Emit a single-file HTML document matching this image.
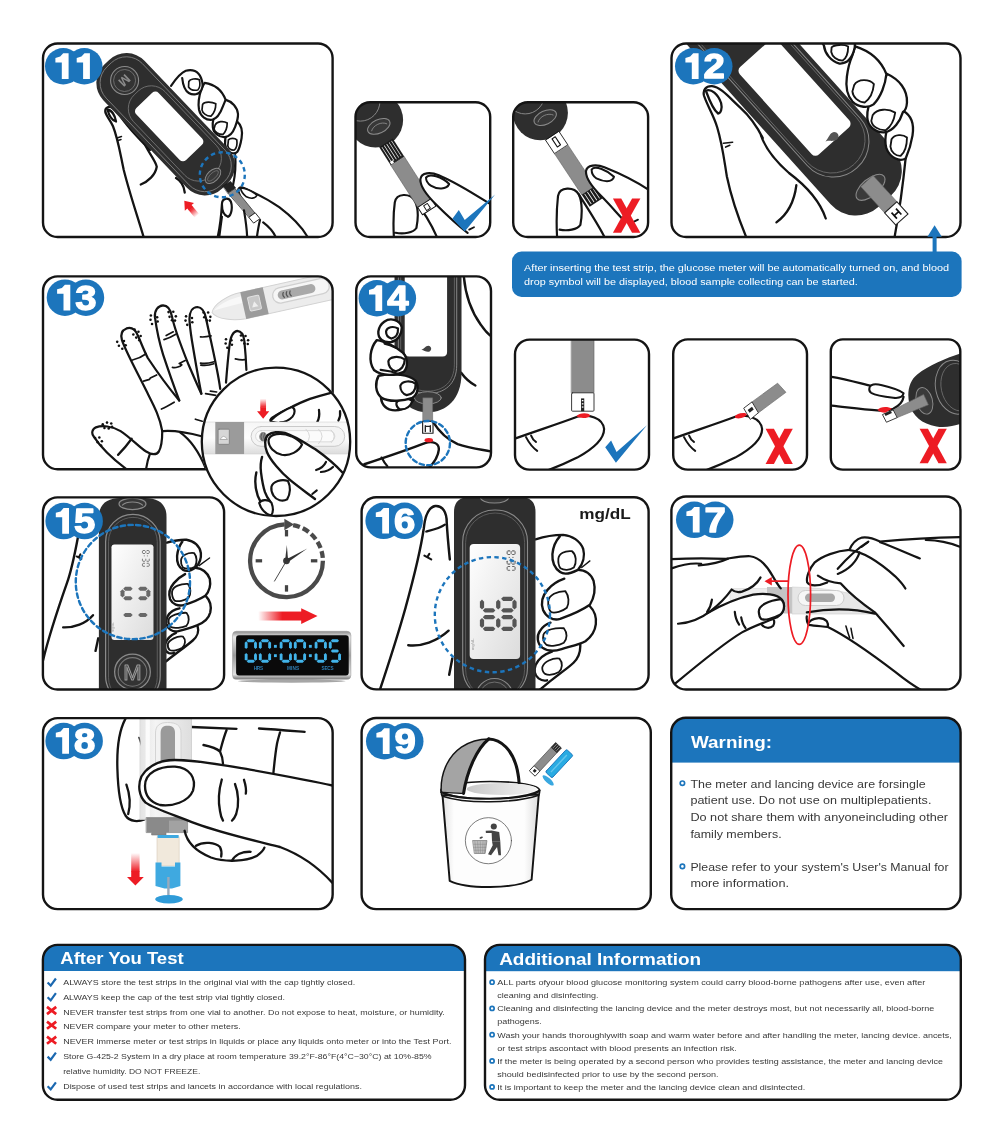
<!DOCTYPE html>
<html><head><meta charset="utf-8"><title>Instructions</title>
<style>
html,body{margin:0;padding:0;background:#fff}
body{width:1000px;height:1143px;overflow:hidden;position:relative;font-family:"Liberation Sans",sans-serif}
svg{position:absolute;left:0;top:0;display:block;will-change:transform;opacity:0.9999}
text{font-family:"Liberation Sans",sans-serif}
</style></head><body>
<svg width="1000" height="1143" viewBox="0 0 1000 1143">
<defs>
<linearGradient id="gBin" x1="0" y1="0" x2="1" y2="0"><stop offset="0" stop-color="#e2e2e2"/><stop offset="0.12" stop-color="#fdfdfd"/><stop offset="0.85" stop-color="#fdfdfd"/><stop offset="1" stop-color="#dcdcdc"/></linearGradient>
<linearGradient id="gBinIn" x1="0" y1="0" x2="1" y2="0"><stop offset="0" stop-color="#c8c8c8"/><stop offset="1" stop-color="#f4f4f4"/></linearGradient>
<linearGradient id="gDev" x1="0" y1="0" x2="1" y2="0"><stop offset="0" stop-color="#e4e4e4"/><stop offset="0.3" stop-color="#f4f4f4"/><stop offset="1" stop-color="#dedede"/></linearGradient>
<linearGradient id="gScr" x1="0" y1="0" x2="1" y2="1"><stop offset="0" stop-color="#ffffff"/><stop offset="1" stop-color="#dcdcdc"/></linearGradient>
<linearGradient id="gSilver" x1="0" y1="0" x2="0" y2="1"><stop offset="0" stop-color="#8a8a8a"/><stop offset="0.12" stop-color="#e8e8e8"/><stop offset="0.5" stop-color="#9a9a9a"/><stop offset="0.9" stop-color="#e0e0e0"/><stop offset="1" stop-color="#777"/></linearGradient>
<linearGradient id="gLan" x1="0" y1="0" x2="0" y2="1"><stop offset="0" stop-color="#f6f6f6"/><stop offset="0.5" stop-color="#fdfdfd"/><stop offset="1" stop-color="#dcdcdc"/></linearGradient>
<linearGradient id="gRedV" x1="0" y1="0" x2="0" y2="1"><stop offset="0" stop-color="#ed1c24"/><stop offset="1" stop-color="#ed1c24" stop-opacity="0"/></linearGradient>
<linearGradient id="gRedVr" x1="0" y1="1" x2="0" y2="0"><stop offset="0" stop-color="#ed1c24"/><stop offset="1" stop-color="#ed1c24" stop-opacity="0"/></linearGradient>
<linearGradient id="gRedH" x1="1" y1="0" x2="0" y2="0"><stop offset="0" stop-color="#ed1c24"/><stop offset="0.45" stop-color="#ed1c24"/><stop offset="1" stop-color="#ed1c24" stop-opacity="0"/></linearGradient>
<clipPath id="c_b11"><rect x="43.00" y="43.50" width="289.60" height="193.50" rx="14.6"/></clipPath><clipPath id="c_b11a"><rect x="355.50" y="102.20" width="134.70" height="134.80" rx="14.6"/></clipPath><clipPath id="c_b11b"><rect x="513.20" y="102.20" width="134.90" height="134.80" rx="14.6"/></clipPath><clipPath id="c_b12"><rect x="671.50" y="43.50" width="289.00" height="193.50" rx="14.6"/></clipPath><clipPath id="c_b13"><rect x="43.00" y="276.40" width="289.65" height="192.90" rx="14.6"/></clipPath><clipPath id="c_b14"><rect x="356.20" y="276.40" width="134.80" height="191.00" rx="14.6"/></clipPath><clipPath id="c_b14a"><rect x="515.00" y="339.60" width="134.00" height="130.00" rx="14.6"/></clipPath><clipPath id="c_b14b"><rect x="673.20" y="339.40" width="133.80" height="130.20" rx="14.6"/></clipPath><clipPath id="c_b14c"><rect x="830.80" y="339.40" width="129.50" height="130.20" rx="12"/></clipPath><clipPath id="c_b15"><rect x="42.90" y="497.40" width="181.20" height="192.15" rx="14.6"/></clipPath><clipPath id="c_b16"><rect x="361.60" y="497.20" width="287.00" height="192.20" rx="14.6"/></clipPath><clipPath id="c_b17"><rect x="671.40" y="496.50" width="289.10" height="193.00" rx="14.6"/></clipPath><clipPath id="c_b18"><rect x="43.00" y="718.10" width="289.65" height="191.00" rx="14.6"/></clipPath><clipPath id="c_b19"><rect x="361.60" y="718.00" width="289.20" height="191.10" rx="14.6"/></clipPath><clipPath id="c_bw"><rect x="671.20" y="717.80" width="289.40" height="191.30" rx="14.6"/></clipPath><clipPath id="c_ba"><rect x="42.90" y="944.90" width="422.10" height="154.90" rx="14.6"/></clipPath><clipPath id="c_bi"><rect x="485.00" y="944.90" width="475.80" height="154.90" rx="14.6"/></clipPath></defs>
<rect width="1000" height="1143" fill="#fff"/>
<g clip-path="url(#c_b11)"><g transform="translate(90,40) scale(0.25)" fill="none" stroke="#141414" stroke-width="9.12" stroke-linecap="round" stroke-linejoin="round"><path d="M218,800 C195,720 160,620 135,520 C120,450 112,395 92,345 C78,312 52,292 64,274 C78,258 100,272 118,300 C150,350 200,400 240,440"/><path d="M70,278 C86,280 100,300 104,326 C90,322 76,302 70,278 Z" fill="#fff"/><path d="M108,392 L126,386 M112,402 L124,398" stroke-width="6"/><path d="M203,578 C232,566 262,540 267,507 C262,480 225,440 212,400 C208,390 208,382 210,376"/><path d="M344,552 C362,562 376,584 379,610"/></g><g transform="translate(160,60) scale(0.12)" fill="#fff" stroke="#141414" stroke-width="18.24" stroke-linecap="round" stroke-linejoin="round"><path d="M640,510 C675,540 690,590 680,650 C672,700 660,740 645,765 C620,790 570,775 552,740 C540,710 540,680 545,650 Z"/><path d="M570,665 C585,650 625,650 640,665 C645,700 635,735 620,750 C595,755 570,740 565,715 Z" stroke-width="14"/><path d="M545,330 C600,345 645,395 650,450 C652,490 640,520 625,560 C610,600 580,640 540,642 C490,645 445,610 440,560 C438,530 440,510 445,495 Z"/><path d="M460,540 C475,510 530,505 560,525 C560,560 545,600 525,620 C490,622 455,600 450,575 Z" stroke-width="14"/><path d="M345,240 C325,300 315,360 325,415 C338,470 385,505 435,498 C475,490 505,440 525,385 C540,345 548,335 545,328 C520,260 465,205 372,190 Z"/><path d="M355,370 C370,345 430,345 465,365 C465,400 450,445 425,468 C390,470 355,445 350,415 Z" stroke-width="14"/><path d="M60,260 C120,170 165,110 215,90 C270,72 320,95 342,150 C358,190 358,225 345,250 C325,290 275,295 240,275 C205,255 192,215 185,150 L60,300 Z" stroke="none"/><path d="M92,215 C130,160 165,110 215,90 C270,72 320,95 342,150 C358,190 358,225 345,250 C325,290 275,295 240,275 C205,255 192,215 185,150" fill="none"/><path d="M240,180 C250,158 300,150 328,165 C336,200 330,235 315,250 C280,256 250,245 238,225 Z" stroke-width="14"/></g><g transform="translate(167.5,122.5) rotate(46.3)"><rect x="-85.5" y="-26" width="171" height="57" rx="25" fill="#2e2e2e"/><rect x="-82" y="-22.5" width="164" height="50" rx="22" fill="none" stroke="#7d7d7d" stroke-width="0.9"/><rect x="-43" y="-19.5" width="112" height="43.5" rx="19" fill="none" stroke="#6f6f6f" stroke-width="0.9"/><rect x="-32" y="-14" width="72" height="31" rx="4.5" fill="#fff"/><circle cx="-60" cy="2" r="14" fill="#333" stroke="#8a8a8a" stroke-width="1.1"/><circle cx="-60" cy="2" r="11" fill="none" stroke="#777" stroke-width="0.8"/><text x="-60" y="6.6" text-anchor="middle" font-weight="bold" font-size="13" fill="#8a8a8a" transform="rotate(90,-60,2)">M</text><ellipse cx="70" cy="4" rx="5.5" ry="9.5" fill="#3a3a3a" stroke="#8a8a8a" stroke-width="1"/><ellipse cx="70" cy="4" rx="2.8" ry="7" fill="none" stroke="#777" stroke-width="0.7"/></g><g transform="translate(180,140) scale(0.16)" stroke-linecap="round" stroke-linejoin="round" stroke="#141414" fill="#fff" stroke-width="13.68"><path d="M345,95 C350,160 345,220 332,280" fill="none"/><path d="M800,610 C760,540 700,480 620,420 C560,378 480,335 400,300 C375,290 355,300 368,330 C385,380 420,440 470,500 L520,520 L600,610 Z" stroke="none"/><path d="M800,610 C760,540 700,480 620,420 C560,378 480,335 400,300 C375,290 355,300 368,330 C385,380 410,430 440,475" fill="none"/><path d="M378,300 C410,300 450,320 482,345 C470,368 440,368 415,355 C395,340 382,322 378,300 Z" stroke-width="10"/><path d="M520,515 C560,545 585,575 600,610 M500,500 C490,540 485,575 480,610" fill="none"/><polygon points="268,288 316,258 348,300 300,332" fill="#222" stroke="#111" stroke-width="3"/><polygon points="302,331 344,303 468,456 432,482" fill="#8c8c8c" stroke="#333" stroke-width="5"/><polygon points="432,482 470,455 500,492 462,518" fill="#fff" stroke="#222" stroke-width="6"/><path d="M235,610 C250,540 258,470 262,400 C264,365 300,355 318,385 C330,420 322,470 300,480 M262,400 C262,440 268,470 300,480" fill="#fff"/><path d="M262,480 C255,530 250,570 245,610 M400,440 C410,500 418,560 420,610" fill="none"/></g><circle cx="222.3" cy="174.8" r="22.5" fill="none" stroke="#1c75bc" stroke-width="2.4" stroke-dasharray="4.4 3.4"/><g transform="translate(187.5,204.5) rotate(-40)"><polygon points="0,-5 6,3 2.8,3 2.8,6 -2.8,6 -2.8,3 -6,3" fill="#ed1c24"/><rect x="-2.8" y="5.8" width="5.6" height="9" fill="url(#gRedV)"/></g></g><rect x="43.00" y="43.50" width="289.60" height="193.50" rx="14.6" fill="none" stroke="#141414" stroke-width="2.4" /><circle cx="63.25" cy="66.25" r="18.25" fill="#1c75bc"/><circle cx="84.25" cy="66.25" r="18.25" fill="#1c75bc"/><polygon points="63.20,53.30 68.60,53.30 68.60,79.00 61.80,79.00 61.80,62.40 55.40,62.40 55.40,57.90 60.20,56.60" fill="#fff"/><polygon points="84.50,53.30 89.90,53.30 89.90,79.00 83.10,79.00 83.10,62.40 76.70,62.40 76.70,57.90 81.50,56.60" fill="#fff"/>
<g clip-path="url(#c_b11a)"><g transform="translate(346,92) scale(0.16)" stroke-linecap="round" stroke-linejoin="round"><circle cx="185" cy="175" r="172" fill="#2e2e2e"/><circle cx="90" cy="60" r="122" fill="none" stroke="#8a8a8a" stroke-width="6"/><g transform="translate(205,215) rotate(-25)"><ellipse rx="75" ry="42" fill="#383838" stroke="#8a8a8a" stroke-width="6"/><path d="M-52,6 C-30,-22 30,-22 52,6" fill="none" stroke="#8a8a8a" stroke-width="5"/></g><path d="M300,920 C295,840 295,760 305,690 C315,630 400,630 430,680 C455,730 450,800 440,850 C420,880 360,890 310,880" fill="#fff" stroke="#141414" stroke-width="13.68"/><path d="M430,680 C480,740 530,820 570,910" fill="none" stroke="#141414" stroke-width="13.68"/><g transform="translate(250,318) rotate(57.4)"><rect x="0" y="-50.0" width="135" height="100" fill="#1c1c1c"/><rect x="8" y="-37.5" width="113" height="4" fill="#fff"/><rect x="8" y="-19.6" width="113" height="4" fill="#fff"/><rect x="8" y="-1.8" width="113" height="4" fill="#fff"/><rect x="8" y="16.1" width="113" height="4" fill="#fff"/><rect x="8" y="33.9" width="113" height="4" fill="#fff"/><rect x="113" y="24.0" width="20" height="20" fill="#fff"/><rect x="135" y="-50.0" width="311" height="100" fill="#8c8c8c" stroke="#555" stroke-width="3"/><rect x="446" y="-50.0" width="55" height="100" fill="#fff" stroke="#111" stroke-width="6"/><rect x="458" y="-14" width="35" height="28" fill="none" stroke="#111" stroke-width="6"/></g><path d="M930,720 C820,650 700,570 580,520 C530,500 470,500 465,545 C462,590 500,640 560,700 C620,760 680,820 740,875 L930,920 Z" fill="#fff" stroke="none"/><path d="M920,712 C820,650 700,570 580,520 C530,500 470,500 465,545 C462,590 500,640 560,700 C620,760 680,820 760,880" fill="none" stroke="#141414" stroke-width="13.68"/><path d="M500,535 C520,505 600,530 645,575 C630,610 570,610 530,585 C510,572 500,555 500,535 Z" fill="#fff" stroke="#141414" stroke-width="12.54"/><path d="M770,860 L800,845" stroke="#141414" stroke-width="11.40" fill="none"/></g></g><rect x="355.50" y="102.20" width="134.70" height="134.80" rx="14.6" fill="none" stroke="#141414" stroke-width="2.4" /><g transform="translate(346,92) scale(0.16)"><polygon points="665.0,792.0 705.0,738.0 742.0,800.0 932.0,640.0 742.0,872.0" fill="#1c75bc"/></g><g clip-path="url(#c_b11b)"><g transform="translate(502,92) scale(0.16)" stroke-linecap="round" stroke-linejoin="round"><circle cx="240" cy="130" r="172" fill="#2e2e2e"/><circle cx="145" cy="15" r="122" fill="none" stroke="#8a8a8a" stroke-width="6"/><g transform="translate(270,160) rotate(-25)"><ellipse rx="75" ry="42" fill="#383838" stroke="#8a8a8a" stroke-width="6"/><path d="M-52,6 C-30,-22 30,-22 52,6" fill="none" stroke="#8a8a8a" stroke-width="5"/></g><path d="M345,920 C340,840 340,740 350,650 C360,590 450,590 480,640 C505,690 500,780 490,830 C470,860 410,870 360,860" fill="#fff" stroke="#141414" stroke-width="13.68"/><path d="M480,640 C530,720 590,810 640,905" fill="none" stroke="#141414" stroke-width="13.68"/><g transform="translate(315,275) rotate(56.5)"><rect x="0" y="-50.0" width="100" height="100" fill="#fff" stroke="#111" stroke-width="5"/><rect x="14" y="-12" width="60" height="24" fill="none" stroke="#111" stroke-width="7"/><rect x="100" y="-50.0" width="309" height="100" fill="#8c8c8c" stroke="#555" stroke-width="3"/><rect x="408" y="-50.0" width="90" height="100" fill="#1c1c1c"/><rect x="413" y="-33.3" width="75" height="5" fill="#fff"/><rect x="413" y="-12.5" width="75" height="5" fill="#fff"/><rect x="413" y="8.3" width="75" height="5" fill="#fff"/><rect x="413" y="29.2" width="75" height="5" fill="#fff"/></g><path d="M930,600 C840,560 740,510 640,470 C590,450 530,455 525,495 C522,540 560,590 620,650 C680,710 740,770 800,830 L930,900 Z" fill="#fff" stroke="none"/><path d="M915,610 C840,560 740,510 640,470 C590,450 530,455 525,495 C522,540 560,590 620,650 C680,710 720,760 760,800" fill="none" stroke="#141414" stroke-width="13.68"/><path d="M560,485 C580,455 660,490 700,530 C690,570 630,560 590,540 C570,528 560,508 560,485 Z" fill="#fff" stroke="#141414" stroke-width="12.54"/><path d="M825,810 L850,798" stroke="#141414" stroke-width="11.40" fill="none"/><polygon points="693,665 745,665 865,880 813,880" fill="#ed1c24"/><polygon points="813,665 865,665 745,880 693,880" fill="#ed1c24"/></g></g><rect x="513.20" y="102.20" width="134.90" height="134.80" rx="14.6" fill="none" stroke="#141414" stroke-width="2.4" />
<g clip-path="url(#c_b12)"><g transform="translate(670,40) scale(0.175)" fill="none" stroke="#141414" stroke-width="13.11" stroke-linecap="round" stroke-linejoin="round"><path d="M435,1125 C400,1040 350,900 325,780 C310,690 300,600 270,500 C250,430 215,380 195,320 C185,285 205,262 240,264 C290,268 340,330 400,385 C450,430 500,500 530,560"/><path d="M205,290 C235,275 275,310 292,360 C300,390 290,420 275,420 C255,405 225,345 205,290 Z"/><path d="M305,590 L358,584 M318,612 L342,602" stroke-width="9"/><path d="M520,545 C545,620 600,690 680,760 C760,820 850,900 890,1020"/><path d="M722,830 C712,910 680,990 608,1042"/></g><g transform="translate(859,170) rotate(48)"><rect x="-360" y="-40" width="400.5" height="84" rx="34" fill="#2e2e2e"/><rect x="-360" y="-35.5" width="357" height="71" rx="35" fill="none" stroke="#8a8a8a" stroke-width="1"/><rect x="-360" y="-33.2" width="352.5" height="66.4" rx="33" fill="none" stroke="#707070" stroke-width="0.8"/><rect x="-156" y="-26" width="117.6" height="50.5" rx="5" fill="#fff"/></g><g transform="translate(800,40) scale(0.1838)" fill="#fff" stroke="#141414" stroke-width="12.54" stroke-linecap="round" stroke-linejoin="round"><path d="M575,640 C565,740 550,880 515,1070" fill="none"/><path d="M560,385 C605,410 622,460 612,520 C604,570 590,610 575,645 C540,665 490,640 470,590 C462,560 464,525 470,500 Z"/><path d="M498,540 C515,512 560,512 582,530 C582,570 570,610 548,630 C520,632 495,610 492,580 Z" stroke-width="10"/><path d="M475,185 C540,215 585,270 582,340 C580,370 572,385 560,392 C545,440 510,495 460,502 C410,505 368,470 366,420 C365,395 368,380 372,365 Z"/><path d="M395,410 C420,372 480,372 518,395 C512,435 495,470 468,490 C430,494 392,470 388,440 Z" stroke-width="10"/><path d="M300,35 C380,60 440,110 470,185 C465,240 440,310 400,350 C370,372 320,368 285,335 C255,300 248,250 255,200 C260,160 270,120 282,92 Z"/><path d="M295,245 C315,208 380,212 402,240 C398,285 380,320 352,340 C315,338 288,310 285,280 Z" stroke-width="10"/><path d="M100,-20 L130,30 C135,70 165,115 215,128 C255,130 285,100 298,40 L300,-20 Z"/><path d="M172,40 C185,25 240,22 262,35 C262,70 250,100 232,112 C200,112 175,90 170,65 Z" stroke-width="10"/></g><path d="M825.5,141.5 C829,138 829.5,132.5 834,132 C838.5,132 840,137 837,139.5 C833.5,142 829.5,140 825.5,141.5 Z" fill="#555"/><g transform="translate(870.5,187.3) rotate(-40)"><ellipse rx="17.5" ry="8.5" fill="#3a3a3a" stroke="#8a8a8a" stroke-width="1.1"/></g><g transform="translate(866.9,181) rotate(47.8)"><rect x="0" y="-8.3" width="35.5" height="16.6" fill="#8c8c8c" stroke="#666" stroke-width="0.6"/><rect x="35.5" y="-8.3" width="16.5" height="16.6" fill="#fff" stroke="#222" stroke-width="1.1"/><path d="M40,-3 h8 M40,3 h8 M44,-3 v6" stroke="#111" stroke-width="1.7" fill="none"/></g></g><rect x="671.50" y="43.50" width="289.00" height="193.50" rx="14.6" fill="none" stroke="#141414" stroke-width="2.4" /><circle cx="693.25" cy="66.25" r="18.25" fill="#1c75bc"/><circle cx="714.25" cy="66.25" r="18.25" fill="#1c75bc"/><polygon points="693.20,53.30 698.60,53.30 698.60,79.00 691.80,79.00 691.80,62.40 685.40,62.40 685.40,57.90 690.20,56.60" fill="#fff"/><text transform="translate(714.20,78.30) scale(1.12,1)" text-anchor="middle" font-weight="bold" font-size="34.2" fill="#fff" stroke="#fff" stroke-width="1.3" stroke-linejoin="round">2</text>
<g clip-path="url(#c_b13)"><g transform="translate(90,290) scale(0.17)" fill="none" stroke="#141414" stroke-width="13.11" stroke-linecap="round" stroke-linejoin="round"><path d="M525,650 C500,620 420,520 340,400 C310,340 295,295 280,265 C265,230 240,218 215,226 C185,238 178,262 188,295 C210,360 260,450 330,590 C370,670 410,740 425,830"/><path d="M525,650 C510,610 470,500 430,380 C405,300 390,220 382,160 C378,120 400,92 430,90 C462,90 475,120 482,155 C495,220 540,340 580,440 C610,510 640,580 655,610"/><path d="M655,610 C645,560 620,420 600,300 C592,250 586,200 585,170 C586,125 605,100 632,100 C662,102 675,130 682,165 C695,230 720,330 745,460 C755,510 762,550 766,582"/><path d="M800,545 C805,480 812,400 820,330 C824,290 835,245 866,240 C895,242 905,270 908,300 C914,360 918,420 920,470"/><path d="M425,830 C425,880 420,925 405,950 C390,972 360,968 330,950 C290,925 240,870 180,830 C130,800 70,795 35,808 C10,820 8,845 22,862 C60,920 130,990 212,1052"/><path d="M352,965 C342,990 335,1020 330,1052"/><path d="M245,875 C220,910 190,945 165,970"/><path d="M430,830 C500,825 580,840 662,862"/><path d="M530,838 C590,880 640,950 682,1052"/><path d="M250,412 C280,405 310,390 330,375 M315,536 L350,526 L355,518 L392,500 M420,700 C445,690 470,675 495,660 M435,292 C460,285 485,272 505,260 M448,268 L490,246 M485,455 C505,460 530,450 540,440 L525,432 L560,415 M650,276 C670,278 690,275 712,270 M650,430 C680,435 705,430 730,422 M652,442 C680,446 705,442 728,434 M680,610 L740,620 M708,595 L745,600 M855,405 C875,410 895,412 910,410 M620,760 L660,772" stroke-width="10"/><circle cx="160" cy="305" r="7.5" fill="#111" stroke="none"/><circle cx="170" cy="328" r="7.5" fill="#111" stroke="none"/><circle cx="190" cy="345" r="7.5" fill="#111" stroke="none"/><circle cx="200" cy="300" r="7.5" fill="#111" stroke="none"/><circle cx="210" cy="325" r="7.5" fill="#111" stroke="none"/><circle cx="262" cy="232" r="7.5" fill="#111" stroke="none"/><circle cx="285" cy="245" r="7.5" fill="#111" stroke="none"/><circle cx="298" cy="270" r="7.5" fill="#111" stroke="none"/><circle cx="255" cy="262" r="7.5" fill="#111" stroke="none"/><circle cx="272" cy="280" r="7.5" fill="#111" stroke="none"/><circle cx="290" cy="295" r="7.5" fill="#111" stroke="none"/><circle cx="358" cy="150" r="7.5" fill="#111" stroke="none"/><circle cx="356" cy="175" r="7.5" fill="#111" stroke="none"/><circle cx="365" cy="200" r="7.5" fill="#111" stroke="none"/><circle cx="395" cy="160" r="7.5" fill="#111" stroke="none"/><circle cx="398" cy="185" r="7.5" fill="#111" stroke="none"/><circle cx="462" cy="130" r="7.5" fill="#111" stroke="none"/><circle cx="490" cy="128" r="7.5" fill="#111" stroke="none"/><circle cx="505" cy="155" r="7.5" fill="#111" stroke="none"/><circle cx="468" cy="158" r="7.5" fill="#111" stroke="none"/><circle cx="482" cy="178" r="7.5" fill="#111" stroke="none"/><circle cx="500" cy="180" r="7.5" fill="#111" stroke="none"/><circle cx="565" cy="155" r="7.5" fill="#111" stroke="none"/><circle cx="562" cy="180" r="7.5" fill="#111" stroke="none"/><circle cx="572" cy="205" r="7.5" fill="#111" stroke="none"/><circle cx="600" cy="165" r="7.5" fill="#111" stroke="none"/><circle cx="602" cy="190" r="7.5" fill="#111" stroke="none"/><circle cx="668" cy="132" r="7.5" fill="#111" stroke="none"/><circle cx="695" cy="132" r="7.5" fill="#111" stroke="none"/><circle cx="708" cy="158" r="7.5" fill="#111" stroke="none"/><circle cx="672" cy="160" r="7.5" fill="#111" stroke="none"/><circle cx="688" cy="180" r="7.5" fill="#111" stroke="none"/><circle cx="705" cy="180" r="7.5" fill="#111" stroke="none"/><circle cx="800" cy="290" r="7.5" fill="#111" stroke="none"/><circle cx="798" cy="315" r="7.5" fill="#111" stroke="none"/><circle cx="808" cy="340" r="7.5" fill="#111" stroke="none"/><circle cx="832" cy="295" r="7.5" fill="#111" stroke="none"/><circle cx="835" cy="322" r="7.5" fill="#111" stroke="none"/><circle cx="888" cy="268" r="7.5" fill="#111" stroke="none"/><circle cx="915" cy="270" r="7.5" fill="#111" stroke="none"/><circle cx="930" cy="295" r="7.5" fill="#111" stroke="none"/><circle cx="892" cy="295" r="7.5" fill="#111" stroke="none"/><circle cx="908" cy="315" r="7.5" fill="#111" stroke="none"/><circle cx="928" cy="318" r="7.5" fill="#111" stroke="none"/><circle cx="75" cy="790" r="7.5" fill="#111" stroke="none"/><circle cx="100" cy="780" r="7.5" fill="#111" stroke="none"/><circle cx="125" cy="785" r="7.5" fill="#111" stroke="none"/><circle cx="85" cy="812" r="7.5" fill="#111" stroke="none"/><circle cx="110" cy="815" r="7.5" fill="#111" stroke="none"/><circle cx="130" cy="805" r="7.5" fill="#111" stroke="none"/><circle cx="30" cy="870" r="7.5" fill="#111" stroke="none"/><circle cx="45" cy="895" r="7.5" fill="#111" stroke="none"/><circle cx="65" cy="915" r="7.5" fill="#111" stroke="none"/><circle cx="55" cy="868" r="7.5" fill="#111" stroke="none"/><circle cx="70" cy="890" r="7.5" fill="#111" stroke="none"/></g><g transform="translate(212,312.5) rotate(-12.5) scale(0.32)"><path d="M0,0 C10,-25 60,-42 100,-42 L420,-42 L420,42 L100,42 C60,40 10,25 0,0 Z" fill="#ececec" stroke="#d2d2d2" stroke-width="3"/><path d="M6,-4 C30,-22 70,-30 100,-30 L100,-8 C70,-8 30,-6 6,-4 Z" fill="#f8f8f8"/><rect x="100" y="-43" width="72" height="86" fill="#9b9b9b"/><rect x="118" y="-22" width="36" height="44" rx="4" fill="#c8c8c8" stroke="#e2e2e2" stroke-width="3"/><path d="M126,12 l10,-18 l10,18 z" fill="#eee"/><rect x="196" y="-30" width="180" height="48" rx="24" fill="#f6f6f6" stroke="#d0d0d0" stroke-width="4"/><rect x="212" y="-20" width="120" height="28" rx="14" fill="#a9a9a9"/><path d="M232,-14 q-8,9 0,18 M243,-14 q-8,9 0,18 M254,-14 q-8,9 0,18" stroke="#555" stroke-width="4" fill="none"/></g></g><rect x="43.00" y="276.40" width="289.65" height="192.90" rx="14.6" fill="none" stroke="#141414" stroke-width="2.4" /><circle cx="64.95" cy="297.65" r="18.25" fill="#1c75bc"/><circle cx="85.95" cy="297.65" r="18.25" fill="#1c75bc"/><polygon points="64.90,284.70 70.30,284.70 70.30,310.40 63.50,310.40 63.50,293.80 57.10,293.80 57.10,289.30 61.90,288.00" fill="#fff"/><text transform="translate(85.90,309.70) scale(1.12,1)" text-anchor="middle" font-weight="bold" font-size="34.2" fill="#fff" stroke="#fff" stroke-width="1.3" stroke-linejoin="round">3</text><defs><clipPath id="c_ins"><circle cx="276" cy="441.8" r="74.2"/></clipPath></defs><circle cx="276" cy="441.8" r="75.3" fill="#fff"/><g clip-path="url(#c_ins)"><g transform="translate(180,350) scale(0.18)" stroke-linecap="round" stroke-linejoin="round"><path d="M960,200 L833,239 C790,250 750,262 722,272 C680,288 640,306 611,322 C570,342 540,358 528,367 C510,378 498,386 503,394 C510,402 540,402 556,402 L960,402 Z" fill="#fff" stroke="none"/><path d="M833,239 C790,250 750,262 722,272 C680,288 640,306 611,322 C570,342 540,358 528,367 C510,378 498,386 503,394 C510,402 540,402 556,402" fill="none" stroke="#141414" stroke-width="13.11"/><path d="M505,392 C530,362 590,328 622,317 C642,325 640,352 625,370 C605,392 575,402 556,402" fill="#fff" stroke="#141414" stroke-width="11.97"/><path d="M772,333 C776,360 772,385 762,402 M889,339 C892,360 888,378 880,392" fill="none" stroke="#141414" stroke-width="12.54"/><rect x="125" y="400" width="830" height="178" rx="14" fill="url(#gLan)" stroke="#cfcfcf" stroke-width="3"/><rect x="196" y="400" width="160" height="178" fill="#9b9b9b"/><rect x="212" y="440" width="62" height="84" rx="5" fill="#d6d6d6" stroke="#777" stroke-width="4"/><path d="M224,495 q18,-32 38,0 z" fill="#fff" stroke="#888" stroke-width="3"/><rect x="395" y="425" width="520" height="110" rx="55" fill="#f4f4f4" stroke="#c4c4c4" stroke-width="5"/><rect x="420" y="448" width="440" height="62" rx="31" fill="#fbfbfb" stroke="#d0d0d0" stroke-width="4"/><path d="M700,440 q40,40 0,80 M770,440 q40,40 0,80 M840,445 q35,35 0,70" fill="none" stroke="#d2d2d2" stroke-width="5"/><ellipse cx="462" cy="482" rx="22" ry="26" fill="#888"/><path d="M455,462 q-12,20 0,40 M470,462 q-12,20 0,40" stroke="#444" stroke-width="4" fill="none"/><path d="M456,594 C448,620 446,650 450,680 C455,720 462,760 472,790 C480,812 490,828 500,840" fill="none" stroke="#141414" stroke-width="13.11"/><path d="M424,680 C415,720 418,770 432,810 C445,845 462,870 480,890" fill="none" stroke="#141414" stroke-width="13.11"/><path d="M508,760 C515,730 565,715 600,728 C615,760 612,800 595,830 C570,845 535,835 520,810 C510,795 505,778 508,760 Z" fill="#fff" stroke="#141414" stroke-width="11.97"/><path d="M440,850 C450,830 490,828 508,848 C520,880 518,905 505,920 C478,915 450,885 440,850 Z" fill="#fff" stroke="#141414" stroke-width="11.97"/><path d="M960,740 L905,683 C870,645 800,585 750,550 C700,520 640,480 583,461 C550,452 510,455 489,472 C470,490 468,530 483,567 C500,610 560,680 611,722 C650,755 700,790 750,828 L960,940 Z" fill="#fff" stroke="none"/><path d="M905,683 C870,645 800,585 750,550 C700,520 640,480 583,461 C550,452 510,455 489,472 C470,490 468,530 483,567 C500,610 560,680 611,722 C650,755 700,790 750,828" fill="none" stroke="#141414" stroke-width="13.11"/><path d="M492,500 C500,465 560,455 620,480 C650,495 670,510 678,525 C660,565 610,590 565,582 C525,572 490,540 492,500 Z" fill="#fff" stroke="#141414" stroke-width="11.97"/><path d="M756,667 C780,660 800,645 811,622 M783,678 C810,675 835,665 850,650" fill="none" stroke="#141414" stroke-width="11.97"/><path d="M735,800 L760,780" fill="none" stroke="#141414" stroke-width="11.40"/><polygon points="462,382 428,340 446,340 446,318 478,318 478,340 496,340" fill="#ed1c24"/><rect x="446" y="270" width="32" height="50" fill="url(#gRedVr)"/></g></g><circle cx="276" cy="441.8" r="74.2" fill="none" stroke="#141414" stroke-width="2.3"/>
<g clip-path="url(#c_b14)"><g transform="translate(346,265) scale(0.19253)" stroke-linecap="round" stroke-linejoin="round"><path d="M612,60 C620,150 650,240 700,310 C720,340 745,365 760,375" fill="none" stroke="#141414" stroke-width="12.54"/><path d="M598,560 C620,590 645,612 672,626" fill="none" stroke="#141414" stroke-width="12.54"/><path d="M252,40 L252,560 C252,700 330,765 425,765 C520,765 600,700 600,560 L600,40 Z" fill="#2e2e2e"/><path d="M272,40 L272,520 C272,620 340,668 425,668 C510,668 575,620 575,520 L575,40" fill="none" stroke="#8a8a8a" stroke-width="5"/><path d="M284,40 L284,515 C284,608 345,655 425,655 C505,655 563,608 563,515 L563,40" fill="none" stroke="#707070" stroke-width="4"/><path d="M305,40 L305,452 Q305,475 328,475 L502,475 Q525,475 525,452 L525,40 Z" fill="#fff"/><path d="M392,440 C408,436 412,420 428,420 C445,422 448,444 432,450 C418,455 405,442 392,440 Z" fill="#444"/><ellipse cx="425" cy="690" rx="70" ry="32" fill="#3a3a3a" stroke="#8a8a8a" stroke-width="5"/><rect x="400" y="690" width="50" height="122" fill="#8c8c8c" stroke="#666" stroke-width="3"/><rect x="398" y="812" width="54" height="62" fill="#fff" stroke="#222" stroke-width="6"/><path d="M412,835 v30 M438,835 v30 M412,838 h26" stroke="#222" stroke-width="7" fill="none"/><path d="M350,700 C320,745 270,765 225,750 C190,735 175,700 185,665 Z" fill="#fff" stroke="#141414" stroke-width="12.54"/><path d="M262,715 C275,690 320,690 345,705 C335,735 310,752 280,750 C268,742 260,730 262,715 Z" fill="#fff" stroke="#141414" stroke-width="11.40"/><path d="M170,575 C150,610 150,660 185,690 C230,715 300,705 345,690 C375,670 380,630 360,600 C330,570 250,560 170,575 Z" fill="#fff" stroke="#141414" stroke-width="12.54"/><path d="M282,628 C290,600 340,598 362,618 C362,650 345,672 315,676 C295,670 282,650 282,628 Z" fill="#fff" stroke="#141414" stroke-width="11.40"/><path d="M160,390 C125,430 115,500 145,545 C190,580 260,575 300,555 C325,530 320,480 295,455 C260,425 200,395 160,390 Z" fill="#fff" stroke="#141414" stroke-width="12.54"/><path d="M220,500 C225,475 275,470 305,490 C305,525 285,548 258,552 C235,545 220,525 220,500 Z" fill="#fff" stroke="#141414" stroke-width="11.40"/><path d="M250,285 C215,275 175,300 168,345 C165,385 195,405 235,400 C270,392 290,360 290,325 C285,300 270,290 250,285 Z" fill="#fff" stroke="#141414" stroke-width="12.54"/><path d="M208,345 C212,322 245,315 270,330 C272,358 258,378 235,382 C218,376 208,362 208,345 Z" fill="#fff" stroke="#141414" stroke-width="11.40"/><path d="M180,545 C215,548 250,556 285,570 M200,408 C220,412 240,420 260,430" fill="none" stroke="#141414" stroke-width="11.40"/><path d="M452,815 C480,860 520,905 580,930 C640,950 700,958 750,968" fill="none" stroke="#141414" stroke-width="12.54"/><path d="M95,1035 C200,1000 320,960 410,925 C450,912 485,925 482,960 C478,1000 450,1035 425,1060 L95,1065 Z" fill="#fff" stroke="none"/><path d="M95,1035 C200,1000 320,960 410,925 C450,912 485,925 482,960 C478,1000 450,1035 425,1060" fill="none" stroke="#141414" stroke-width="12.54"/><path d="M185,1000 C195,1020 205,1035 215,1045" fill="none" stroke="#141414" stroke-width="11.40"/><ellipse cx="430" cy="910" rx="22" ry="11" fill="#ed1c24"/><circle cx="425" cy="925" r="115" fill="none" stroke="#1c75bc" stroke-width="12.5" stroke-dasharray="23 17"/></g></g><rect x="356.20" y="276.40" width="134.80" height="191.00" rx="14.6" fill="none" stroke="#141414" stroke-width="2.4" /><circle cx="376.85" cy="298.25" r="18.25" fill="#1c75bc"/><circle cx="397.85" cy="298.25" r="18.25" fill="#1c75bc"/><polygon points="376.80,285.30 382.20,285.30 382.20,311.00 375.40,311.00 375.40,294.40 369.00,294.40 369.00,289.90 373.80,288.60" fill="#fff"/><text transform="translate(397.80,310.30) scale(1.12,1)" text-anchor="middle" font-weight="bold" font-size="34.2" fill="#fff" stroke="#fff" stroke-width="1.3" stroke-linejoin="round">4</text>
<g clip-path="url(#c_b14a)"><g transform="translate(502,328) scale(0.16)" stroke-linecap="round" stroke-linejoin="round"><path d="M85,690 C210,645 350,600 470,555 C540,535 630,560 638,630 C640,700 560,760 470,810 C400,845 340,870 290,888 L85,888 Z" fill="#fff" stroke="none"/><path d="M85,690 C210,645 350,600 470,555 C540,535 630,560 638,630 C640,700 560,760 470,810 C400,845 340,870 290,888" fill="none" stroke="#141414" stroke-width="13.68"/><path d="M150,682 C170,720 195,750 220,768 M182,672 C190,692 200,705 212,712" fill="none" stroke="#141414" stroke-width="12.54"/><rect x="435" y="60" width="140" height="345" fill="#8c8c8c" stroke="#666" stroke-width="4"/><rect x="435" y="405" width="140" height="115" rx="6" fill="#fff" stroke="#333" stroke-width="6"/><rect x="494" y="440" width="20" height="80" fill="#222"/><rect x="499" y="450" width="10" height="8" fill="#fff"/><rect x="499" y="470" width="10" height="8" fill="#fff"/><rect x="499" y="490" width="10" height="8" fill="#fff"/><path d="M465,552 C480,530 540,525 552,548 C540,565 490,568 465,552 Z" fill="#ed1c24"/></g></g><rect x="515.00" y="339.60" width="134.00" height="130.00" rx="14.6" fill="none" stroke="#141414" stroke-width="2.4" /><g transform="translate(502,328) scale(0.16)"><polygon points="645.0,745.0 682.0,703.0 716.0,775.0 906.0,608.0 712.0,842.0" fill="#1c75bc"/></g><g clip-path="url(#c_b14b)"><g transform="translate(660,328) scale(0.16)" stroke-linecap="round" stroke-linejoin="round"><path d="M85,690 C210,645 350,600 470,555 C540,535 630,560 638,630 C640,700 560,760 470,810 C400,845 340,870 290,888 L85,888 Z" fill="#fff" stroke="none"/><path d="M85,690 C210,645 350,600 470,555 C540,535 630,560 638,630 C640,700 560,760 470,810 C400,845 340,870 290,888" fill="none" stroke="#141414" stroke-width="13.68"/><path d="M150,682 C170,720 195,750 220,768 M182,672 C190,692 200,705 212,712" fill="none" stroke="#141414" stroke-width="12.54"/><polygon points="575,462 735,345 787,402 615,530" fill="#8c8c8c" stroke="#666" stroke-width="4"/><polygon points="525,500 575,462 615,530 566,570" fill="#fff" stroke="#333" stroke-width="6"/><polygon points="548,512 575,492 586,510 560,530" fill="#222"/><g transform="translate(505,548) rotate(-14)"><ellipse rx="38" ry="15" fill="#ed1c24"/></g><polygon points="660,630 712,630 830,850 778,850" fill="#ed1c24"/><polygon points="778,630 830,630 712,850 660,850" fill="#ed1c24"/></g></g><rect x="673.20" y="339.40" width="133.80" height="130.20" rx="14.6" fill="none" stroke="#141414" stroke-width="2.4" /><g clip-path="url(#c_b14c)"><g transform="translate(818,328) scale(0.16)" stroke-linecap="round" stroke-linejoin="round"><path d="M920,150 C820,180 700,230 620,290 C570,330 555,400 570,470 C590,550 650,600 740,615 C800,625 860,610 920,590 Z" fill="#2e2e2e"/><ellipse cx="860" cy="370" rx="125" ry="170" fill="none" stroke="#8a8a8a" stroke-width="6" transform="rotate(-12,860,370)"/><ellipse cx="875" cy="370" rx="105" ry="150" fill="none" stroke="#707070" stroke-width="5" transform="rotate(-12,875,370)"/><ellipse cx="665" cy="455" rx="50" ry="85" fill="#3a3a3a" stroke="#8a8a8a" stroke-width="6" transform="rotate(-15,665,455)"/><path d="M85,305 C180,320 260,345 330,362 C420,380 500,390 530,410 C545,440 520,480 470,505 C440,518 400,518 370,515 C280,508 180,495 85,485 Z" fill="#fff" stroke="none"/><path d="M85,305 C180,320 260,345 330,362 M85,485 C180,495 280,508 370,515 C400,518 440,518 470,505 C505,488 530,460 535,430" fill="none" stroke="#141414" stroke-width="13.68"/><path d="M322,372 C330,350 360,348 400,358 C450,370 510,385 535,408 C530,432 505,440 470,436 C420,430 360,420 332,405 C318,395 318,385 322,372 Z" fill="#fff" stroke="#141414" stroke-width="12.54"/><polygon points="470,512 660,415 690,480 495,560" fill="#8c8c8c" stroke="#666" stroke-width="4"/><polygon points="405,540 470,512 495,560 430,588" fill="#fff" stroke="#333" stroke-width="6"/><polygon points="415,535 455,518 462,532 422,550" fill="#222"/><path d="M372,512 C385,490 440,488 462,505 L420,530 C400,528 380,522 372,512 Z" fill="#ed1c24"/><polygon points="635,630 687,630 805,845 753,845" fill="#ed1c24"/><polygon points="753,630 805,630 687,845 635,845" fill="#ed1c24"/></g></g><rect x="830.80" y="339.40" width="129.50" height="130.20" rx="12" fill="none" stroke="#141414" stroke-width="2.4" />
<g clip-path="url(#c_b15)"><g transform="translate(30,485) scale(0.21)" stroke-linecap="round" stroke-linejoin="round"><path d="M228,250 C215,320 200,400 175,470 C140,570 95,700 62,835" fill="none" stroke="#141414" stroke-width="11.40"/><path d="M222,340 L245,352 M232,345 L240,330" fill="none" stroke="#141414" stroke-width="9.12"/><path d="M158,678 C210,680 265,660 300,620" fill="none" stroke="#141414" stroke-width="11.40"/><path d="M325,730 L312,790" fill="none" stroke="#141414" stroke-width="11.40"/></g><g transform="translate(155,530) scale(0.13986)" stroke-linecap="round" stroke-linejoin="round" fill="#fff" stroke="#141414" stroke-width="17.10"><path d="M305,690 C315,720 305,760 270,790 C230,825 160,875 80,938 L40,938 L40,760 Z" stroke="none"/><path d="M305,690 C315,720 305,760 270,790 C230,825 160,875 80,938" fill="none"/><path d="M150,735 C115,750 85,780 72,815 C65,845 75,870 100,880 C112,884 125,882 135,878" fill="none"/><path d="M92,815 C100,785 160,755 200,762 C222,785 218,820 195,842 C165,860 125,868 105,858 C94,848 90,832 92,815 Z" stroke-width="13"/><path d="M365,475 C395,505 405,545 395,590 C385,630 345,665 300,682 C260,698 200,715 160,725 C120,730 90,705 82,670 C78,635 95,600 125,580 C140,570 158,563 175,560 L40,560 L40,475 Z" stroke="none"/><path d="M365,475 C395,505 405,545 395,590 C385,630 345,665 300,682 C260,698 200,715 160,725 C120,730 90,705 82,670 C78,635 95,600 125,580 C140,570 158,563 175,560" fill="none"/><path d="M98,640 C105,612 170,590 225,592 C248,620 245,660 225,685 C190,700 140,705 115,695 C102,682 95,660 98,640 Z" stroke-width="13"/><path d="M290,270 C335,275 375,305 392,350 C400,395 390,435 360,470 C320,495 260,520 210,535 C165,548 125,530 108,495 C95,455 105,415 135,380 C158,352 185,330 215,315 L40,315 L40,270 Z" stroke="none"/><path d="M290,270 C335,275 375,305 392,350 C400,395 390,435 360,470 C320,495 260,520 210,535 C165,548 125,530 108,495 C95,455 105,415 135,380 C158,352 185,330 215,315" fill="none"/><path d="M122,440 C128,405 185,382 235,385 C258,412 258,455 240,485 C210,505 165,515 140,505 C126,490 120,465 122,440 Z" stroke-width="13"/><path d="M40,100 C100,80 170,68 225,70 C280,78 320,115 328,165 C332,205 318,240 290,268 C260,290 225,298 200,285 C170,265 155,225 158,185 C162,145 175,110 196,82 L40,82 Z" stroke="none"/><path d="M85,90 C130,78 180,68 225,70 C280,78 320,115 328,165 C332,205 318,240 290,268 C260,290 225,298 200,285 C170,265 155,225 158,185 C162,145 175,110 196,82" fill="none"/><path d="M186,215 C190,180 235,160 280,165 C302,190 302,235 285,262 C260,278 222,280 200,268 C188,252 184,235 186,215 Z" stroke-width="13"/><path d="M315,255 L390,200" fill="none" stroke-width="10"/></g><g transform="translate(30,485) scale(0.21)" stroke-linecap="round" stroke-linejoin="round"><path d="M328,1000 L328,150 C328,90 370,62 430,62 L548,62 C610,62 650,90 650,150 L650,1000 Z" fill="#2e2e2e"/><rect x="360" y="140" width="260" height="900" rx="130" fill="none" stroke="#8a8a8a" stroke-width="6"/><rect x="374" y="154" width="232" height="880" rx="116" fill="none" stroke="#666" stroke-width="4"/><ellipse cx="488" cy="90" rx="64" ry="27" fill="#383838" stroke="#8a8a8a" stroke-width="6"/><path d="M440,96 C460,76 515,76 536,96" fill="none" stroke="#8a8a8a" stroke-width="5"/><rect x="388" y="283" width="200" height="455" rx="14" fill="url(#gScr)"/><circle cx="488" cy="890" r="85" fill="#333" stroke="#8a8a8a" stroke-width="6"/><circle cx="488" cy="890" r="68" fill="none" stroke="#777" stroke-width="5"/><text x="488" y="928" text-anchor="middle" font-size="105" fill="none" stroke="#9a9a9a" stroke-width="5">M</text><g transform="translate(573,484) rotate(90)"><g transform="translate(0.0,0)"><polygon points="12.9,9.5 22.4,0.0 42.6,0.0 52.1,9.5 42.6,19.0 22.4,19.0" fill="#686868"/><polygon points="12.9,132.5 22.4,123.0 42.6,123.0 52.1,132.5 42.6,142.0 22.4,142.0" fill="#686868"/><polygon points="9.5,12.9 19.0,22.4 19.0,48.6 9.5,58.1 0.0,48.6 0.0,22.4" fill="#686868"/><polygon points="9.5,83.9 19.0,93.4 19.0,119.6 9.5,129.1 0.0,119.6 0.0,93.4" fill="#686868"/><polygon points="55.5,12.9 65.0,22.4 65.0,48.6 55.5,58.1 46.0,48.6 46.0,22.4" fill="#686868"/><polygon points="55.5,83.9 65.0,93.4 65.0,119.6 55.5,129.1 46.0,119.6 46.0,93.4" fill="#686868"/></g><g transform="translate(80.0,0)"><polygon points="55.5,12.9 65.0,22.4 65.0,48.6 55.5,58.1 46.0,48.6 46.0,22.4" fill="#686868"/><polygon points="55.5,83.9 65.0,93.4 65.0,119.6 55.5,129.1 46.0,119.6 46.0,93.4" fill="#686868"/></g></g><g transform="translate(570,309.5) rotate(90)"><g transform="translate(0.0,0)"><polygon points="3.1,2.2 5.3,0.0 13.7,0.0 15.9,2.2 13.7,4.5 5.3,4.5" fill="#777"/><polygon points="3.1,18.5 5.3,16.2 13.7,16.2 15.9,18.5 13.7,20.8 5.3,20.8" fill="#777"/><polygon points="3.1,34.8 5.3,32.5 13.7,32.5 15.9,34.8 13.7,37.0 5.3,37.0" fill="#777"/><polygon points="2.2,3.1 4.5,5.3 4.5,13.2 2.2,15.4 0.0,13.2 0.0,5.3" fill="#777"/><polygon points="2.2,21.6 4.5,23.8 4.5,31.7 2.2,33.9 0.0,31.7 0.0,23.8" fill="#777"/><polygon points="16.8,3.1 19.0,5.3 19.0,13.2 16.8,15.4 14.5,13.2 14.5,5.3" fill="#777"/><polygon points="16.8,21.6 19.0,23.8 19.0,31.7 16.8,33.9 14.5,31.7 14.5,23.8" fill="#777"/></g><rect x="25.8" y="8.8" width="4.5" height="4.5" fill="#777"/><rect x="25.8" y="23.6" width="4.5" height="4.5" fill="#777"/><g transform="translate(37.0,0)"><polygon points="3.1,2.2 5.3,0.0 13.7,0.0 15.9,2.2 13.7,4.5 5.3,4.5" fill="#777"/><polygon points="3.1,18.5 5.3,16.2 13.7,16.2 15.9,18.5 13.7,20.8 5.3,20.8" fill="#777"/><polygon points="3.1,34.8 5.3,32.5 13.7,32.5 15.9,34.8 13.7,37.0 5.3,37.0" fill="#777"/><polygon points="16.8,3.1 19.0,5.3 19.0,13.2 16.8,15.4 14.5,13.2 14.5,5.3" fill="#777"/><polygon points="16.8,21.6 19.0,23.8 19.0,31.7 16.8,33.9 14.5,31.7 14.5,23.8" fill="#777"/></g><g transform="translate(61.0,0)"><polygon points="3.1,2.2 5.3,0.0 13.7,0.0 15.9,2.2 13.7,4.5 5.3,4.5" fill="#777"/><polygon points="3.1,34.8 5.3,32.5 13.7,32.5 15.9,34.8 13.7,37.0 5.3,37.0" fill="#777"/><polygon points="2.2,3.1 4.5,5.3 4.5,13.2 2.2,15.4 0.0,13.2 0.0,5.3" fill="#777"/><polygon points="2.2,21.6 4.5,23.8 4.5,31.7 2.2,33.9 0.0,31.7 0.0,23.8" fill="#777"/><polygon points="16.8,3.1 19.0,5.3 19.0,13.2 16.8,15.4 14.5,13.2 14.5,5.3" fill="#777"/><polygon points="16.8,21.6 19.0,23.8 19.0,31.7 16.8,33.9 14.5,31.7 14.5,23.8" fill="#777"/></g></g><text transform="translate(400,700) rotate(-90)" font-size="17" fill="#999">mg/dL</text><circle cx="490" cy="462" r="272" fill="none" stroke="#1c75bc" stroke-width="11.5" stroke-dasharray="21 16"/></g></g><rect x="42.90" y="497.40" width="181.20" height="192.15" rx="14.6" fill="none" stroke="#141414" stroke-width="2.4" /><circle cx="63.65" cy="521.05" r="18.25" fill="#1c75bc"/><circle cx="84.65" cy="521.05" r="18.25" fill="#1c75bc"/><polygon points="63.60,508.10 69.00,508.10 69.00,533.80 62.20,533.80 62.20,517.20 55.80,517.20 55.80,512.70 60.60,511.40" fill="#fff"/><text transform="translate(84.60,533.10) scale(1.12,1)" text-anchor="middle" font-weight="bold" font-size="34.2" fill="#fff" stroke="#fff" stroke-width="1.3" stroke-linejoin="round">5</text><g transform="translate(225,495) scale(0.1793)" stroke-linecap="butt"><path d="M546,367 A203,203 0 1 1 333,164" fill="none" stroke="#4a4a4a" stroke-width="24"/><polygon points="331,132 385,164 331,196" fill="#4a4a4a"/><path d="M380.0,167.4 A203,203 0 0 1 417.4,178.1" fill="none" stroke="#4a4a4a" stroke-width="24"/><path d="M433.6,185.3 A203,203 0 0 1 466.6,205.9" fill="none" stroke="#4a4a4a" stroke-width="24"/><path d="M480.1,217.3 A203,203 0 0 1 506.2,246.3" fill="none" stroke="#4a4a4a" stroke-width="24"/><path d="M516.1,260.9 A203,203 0 0 1 533.1,295.9" fill="none" stroke="#4a4a4a" stroke-width="24"/><path d="M538.6,312.8 A203,203 0 0 1 545.4,351.1" fill="none" stroke="#4a4a4a" stroke-width="24"/><rect x="334" y="195" width="18" height="36" fill="#444"/><rect x="334" y="503" width="18" height="36" fill="#444"/><rect x="171" y="358" width="36" height="18" fill="#444"/><rect x="479" y="358" width="36" height="18" fill="#444"/><circle cx="343" cy="367" r="19" fill="#3a3a3a"/><polygon points="335,367 345,279 352,367" fill="#333"/><polygon points="343,359 459,299 351,375" fill="#333"/><path d="M343,367 L275,482" stroke="#333" stroke-width="5"/><rect x="185" y="650" width="245" height="50" fill="url(#gRedH)"/><polygon points="425,632 516,675 425,720" fill="#ed1c24"/><rect x="42" y="760" width="660" height="268" rx="22" fill="url(#gSilver)" stroke="#999" stroke-width="3"/><rect x="62" y="782" width="628" height="224" rx="16" fill="#0a0a0a"/><g transform="translate(110,805)"><g transform="translate(0.0,0)"><polygon points="10.9,8.0 18.9,0.0 49.1,0.0 57.1,8.0 49.1,16.0 18.9,16.0" fill="#42b4ea"/><polygon points="10.9,122.0 18.9,114.0 49.1,114.0 57.1,122.0 49.1,130.0 18.9,130.0" fill="#42b4ea"/><polygon points="8.0,10.9 16.0,18.9 16.0,46.1 8.0,54.1 0.0,46.1 0.0,18.9" fill="#42b4ea"/><polygon points="8.0,75.9 16.0,83.9 16.0,111.1 8.0,119.1 0.0,111.1 0.0,83.9" fill="#42b4ea"/><polygon points="60.0,10.9 68.0,18.9 68.0,46.1 60.0,54.1 52.0,46.1 52.0,18.9" fill="#42b4ea"/><polygon points="60.0,75.9 68.0,83.9 68.0,111.1 60.0,119.1 52.0,111.1 52.0,83.9" fill="#42b4ea"/></g><g transform="translate(79.0,0)"><polygon points="10.9,8.0 18.9,0.0 49.1,0.0 57.1,8.0 49.1,16.0 18.9,16.0" fill="#42b4ea"/><polygon points="10.9,122.0 18.9,114.0 49.1,114.0 57.1,122.0 49.1,130.0 18.9,130.0" fill="#42b4ea"/><polygon points="8.0,10.9 16.0,18.9 16.0,46.1 8.0,54.1 0.0,46.1 0.0,18.9" fill="#42b4ea"/><polygon points="8.0,75.9 16.0,83.9 16.0,111.1 8.0,119.1 0.0,111.1 0.0,83.9" fill="#42b4ea"/><polygon points="60.0,10.9 68.0,18.9 68.0,46.1 60.0,54.1 52.0,46.1 52.0,18.9" fill="#42b4ea"/><polygon points="60.0,75.9 68.0,83.9 68.0,111.1 60.0,119.1 52.0,111.1 52.0,83.9" fill="#42b4ea"/></g><rect x="163.0" y="31.0" width="16" height="16" fill="#42b4ea"/><rect x="163.0" y="83.0" width="16" height="16" fill="#42b4ea"/><g transform="translate(195.0,0)"><polygon points="10.9,8.0 18.9,0.0 49.1,0.0 57.1,8.0 49.1,16.0 18.9,16.0" fill="#42b4ea"/><polygon points="10.9,122.0 18.9,114.0 49.1,114.0 57.1,122.0 49.1,130.0 18.9,130.0" fill="#42b4ea"/><polygon points="8.0,10.9 16.0,18.9 16.0,46.1 8.0,54.1 0.0,46.1 0.0,18.9" fill="#42b4ea"/><polygon points="8.0,75.9 16.0,83.9 16.0,111.1 8.0,119.1 0.0,111.1 0.0,83.9" fill="#42b4ea"/><polygon points="60.0,10.9 68.0,18.9 68.0,46.1 60.0,54.1 52.0,46.1 52.0,18.9" fill="#42b4ea"/><polygon points="60.0,75.9 68.0,83.9 68.0,111.1 60.0,119.1 52.0,111.1 52.0,83.9" fill="#42b4ea"/></g><g transform="translate(274.0,0)"><polygon points="10.9,8.0 18.9,0.0 49.1,0.0 57.1,8.0 49.1,16.0 18.9,16.0" fill="#42b4ea"/><polygon points="10.9,122.0 18.9,114.0 49.1,114.0 57.1,122.0 49.1,130.0 18.9,130.0" fill="#42b4ea"/><polygon points="8.0,10.9 16.0,18.9 16.0,46.1 8.0,54.1 0.0,46.1 0.0,18.9" fill="#42b4ea"/><polygon points="8.0,75.9 16.0,83.9 16.0,111.1 8.0,119.1 0.0,111.1 0.0,83.9" fill="#42b4ea"/><polygon points="60.0,10.9 68.0,18.9 68.0,46.1 60.0,54.1 52.0,46.1 52.0,18.9" fill="#42b4ea"/><polygon points="60.0,75.9 68.0,83.9 68.0,111.1 60.0,119.1 52.0,111.1 52.0,83.9" fill="#42b4ea"/></g><rect x="358.0" y="31.0" width="16" height="16" fill="#42b4ea"/><rect x="358.0" y="83.0" width="16" height="16" fill="#42b4ea"/><g transform="translate(390.0,0)"><polygon points="10.9,8.0 18.9,0.0 49.1,0.0 57.1,8.0 49.1,16.0 18.9,16.0" fill="#42b4ea"/><polygon points="10.9,122.0 18.9,114.0 49.1,114.0 57.1,122.0 49.1,130.0 18.9,130.0" fill="#42b4ea"/><polygon points="8.0,10.9 16.0,18.9 16.0,46.1 8.0,54.1 0.0,46.1 0.0,18.9" fill="#42b4ea"/><polygon points="8.0,75.9 16.0,83.9 16.0,111.1 8.0,119.1 0.0,111.1 0.0,83.9" fill="#42b4ea"/><polygon points="60.0,10.9 68.0,18.9 68.0,46.1 60.0,54.1 52.0,46.1 52.0,18.9" fill="#42b4ea"/><polygon points="60.0,75.9 68.0,83.9 68.0,111.1 60.0,119.1 52.0,111.1 52.0,83.9" fill="#42b4ea"/></g><g transform="translate(469.0,0)"><polygon points="10.9,8.0 18.9,0.0 49.1,0.0 57.1,8.0 49.1,16.0 18.9,16.0" fill="#42b4ea"/><polygon points="10.9,65.0 18.9,57.0 49.1,57.0 57.1,65.0 49.1,73.0 18.9,73.0" fill="#42b4ea"/><polygon points="10.9,122.0 18.9,114.0 49.1,114.0 57.1,122.0 49.1,130.0 18.9,130.0" fill="#42b4ea"/><polygon points="8.0,10.9 16.0,18.9 16.0,46.1 8.0,54.1 0.0,46.1 0.0,18.9" fill="#42b4ea"/><polygon points="60.0,75.9 68.0,83.9 68.0,111.1 60.0,119.1 52.0,111.1 52.0,83.9" fill="#42b4ea"/></g></g><text x="186" y="978" text-anchor="middle" font-size="26" fill="#2f7fb5" font-family="Liberation Mono, monospace" font-weight="bold" textLength="52">HRS</text><text x="380" y="978" text-anchor="middle" font-size="26" fill="#2f7fb5" font-family="Liberation Mono, monospace" font-weight="bold" textLength="68">MINS</text><text x="572" y="978" text-anchor="middle" font-size="26" fill="#2f7fb5" font-family="Liberation Mono, monospace" font-weight="bold" textLength="68">SECS</text><ellipse cx="372" cy="1038" rx="300" ry="9" fill="#000" opacity="0.35"/></g>
<g clip-path="url(#c_b16)"><g transform="translate(350,485) scale(0.31)" stroke-linecap="round" stroke-linejoin="round"><path d="M95,665 C120,590 150,500 178,400 C200,320 225,230 238,140 C242,100 252,72 275,68 C300,66 312,90 312,120 C314,200 322,300 330,380 L340,665 Z" fill="#fff" stroke="none"/><path d="M95,665 C120,590 150,500 178,400 C200,320 225,230 238,140 C242,100 252,72 275,68 C300,66 312,90 312,120 C314,160 318,200 322,240" fill="none" stroke="#141414" stroke-width="7.98"/><path d="M246,150 C262,146 290,140 306,128" fill="none" stroke="#141414" stroke-width="7.41"/><path d="M240,228 L262,240 M250,232 L256,222" fill="none" stroke="#141414" stroke-width="6.84"/><path d="M188,517 C230,522 280,505 318,470" fill="none" stroke="#141414" stroke-width="7.98"/><path d="M330,560 L320,612" fill="none" stroke="#141414" stroke-width="7.98"/></g><g transform="translate(520,520) scale(0.1487)" stroke-linecap="round" stroke-linejoin="round" fill="#fff" stroke="#141414" stroke-width="15.96"><path d="M405,835 C408,880 395,925 360,960 C320,1000 250,1040 130,1145 L60,1145 L60,940 Z" stroke="none"/><path d="M405,835 C408,880 395,925 360,960 C320,1000 250,1040 130,1145" fill="none"/><path d="M215,885 C170,900 125,930 105,975 C92,1010 100,1045 125,1065 C145,1080 165,1082 182,1078" fill="none"/><path d="M150,990 C160,955 220,925 265,932 C290,960 285,1000 262,1022 C230,1040 190,1045 168,1035 C155,1025 148,1008 150,990 Z" stroke-width="12"/><path d="M470,580 C500,610 515,650 510,700 C505,745 480,785 440,815 C400,838 330,852 280,868 C230,885 180,880 150,858 C115,830 110,780 135,745 C150,720 175,700 205,690 L60,690 L60,580 Z" stroke="none"/><path d="M470,580 C500,610 515,650 510,700 C505,745 480,785 440,815 C400,838 330,852 280,868 C230,885 180,880 150,858 C115,830 110,780 135,745 C150,720 175,700 205,690" fill="none"/><path d="M158,770 C170,738 240,722 295,728 C320,760 318,800 295,825 C260,845 205,852 178,840 C160,825 152,795 158,770 Z" stroke-width="12"/><path d="M390,335 C440,335 480,365 495,410 C508,460 500,520 470,570 C420,605 340,640 270,665 C220,680 175,650 155,605 C140,560 150,510 185,470 C215,435 255,410 298,395 L60,395 L60,335 Z" stroke="none"/><path d="M390,335 C440,335 480,365 495,410 C508,460 500,520 470,570 C420,605 340,640 270,665 C220,680 175,650 155,605 C140,560 150,510 185,470 C215,435 255,410 298,395" fill="none"/><path d="M190,545 C195,505 250,478 305,478 C330,510 332,560 315,590 C285,615 235,628 210,620 C195,605 188,575 190,545 Z" stroke-width="12"/><path d="M60,140 C120,120 200,100 290,100 C350,105 405,140 425,195 C438,240 425,295 390,335 C350,355 300,372 270,350 C235,325 215,280 218,230 C222,185 240,140 268,110 L60,110 Z" stroke="none"/><path d="M105,130 C160,112 220,100 290,100 C350,105 405,140 425,195 C438,240 425,295 390,335 C350,355 300,372 270,350 C235,325 215,280 218,230 C222,185 240,140 268,110" fill="none"/><path d="M258,260 C262,225 300,205 350,210 C380,235 382,285 362,320 C335,340 295,340 272,325 C260,308 256,285 258,260 Z" stroke-width="12"/><path d="M415,320 L470,275" fill="none" stroke-width="9"/></g><path d="M454,700 L454,512 Q454,497 470,497 L520,497 Q535.5,497 535.5,512 L535.5,700 Z" fill="#2e2e2e"/><rect x="462.7" y="510" width="64.8" height="190" rx="32" fill="none" stroke="#8a8a8a" stroke-width="1.1"/><rect x="465.6" y="513" width="59" height="186" rx="29.5" fill="none" stroke="#666" stroke-width="0.8"/><ellipse cx="494.5" cy="497.5" rx="14" ry="5.5" fill="#383838" stroke="#8a8a8a" stroke-width="1.1"/><rect x="469.7" y="543.9" width="50.4" height="115" rx="4" fill="url(#gScr)"/><g transform="translate(516.6,596.7) rotate(90)"><g transform="translate(0.0,0)"><polygon points="2.9,2.1 5.0,0.0 10.8,0.0 12.9,2.1 10.8,4.2 5.0,4.2" fill="#555"/><polygon points="2.9,18.4 5.0,16.2 10.8,16.2 12.9,18.4 10.8,20.5 5.0,20.5" fill="#555"/><polygon points="2.9,34.6 5.0,32.5 10.8,32.5 12.9,34.6 10.8,36.7 5.0,36.7" fill="#555"/><polygon points="2.1,2.9 4.2,5.0 4.2,13.4 2.1,15.5 0.0,13.4 0.0,5.0" fill="#555"/><polygon points="13.7,2.9 15.8,5.0 15.8,13.4 13.7,15.5 11.6,13.4 11.6,5.0" fill="#555"/><polygon points="13.7,21.2 15.8,23.3 15.8,31.7 13.7,33.8 11.6,31.7 11.6,23.3" fill="#555"/></g><g transform="translate(18.4,0)"><polygon points="2.9,2.1 5.0,0.0 10.8,0.0 12.9,2.1 10.8,4.2 5.0,4.2" fill="#555"/><polygon points="2.9,18.4 5.0,16.2 10.8,16.2 12.9,18.4 10.8,20.5 5.0,20.5" fill="#555"/><polygon points="2.9,34.6 5.0,32.5 10.8,32.5 12.9,34.6 10.8,36.7 5.0,36.7" fill="#555"/><polygon points="2.1,2.9 4.2,5.0 4.2,13.4 2.1,15.5 0.0,13.4 0.0,5.0" fill="#555"/><polygon points="2.1,21.2 4.2,23.3 4.2,31.7 2.1,33.8 0.0,31.7 0.0,23.3" fill="#555"/><polygon points="13.7,2.9 15.8,5.0 15.8,13.4 13.7,15.5 11.6,13.4 11.6,5.0" fill="#555"/><polygon points="13.7,21.2 15.8,23.3 15.8,31.7 13.7,33.8 11.6,31.7 11.6,23.3" fill="#555"/></g></g><g transform="translate(515.6,550.3) rotate(90)"><g transform="translate(0.0,0)"><polygon points="0.7,0.6 1.3,0.0 3.5,0.0 4.1,0.6 3.5,1.1 1.3,1.1" fill="#666"/><polygon points="0.7,4.5 1.3,4.0 3.5,4.0 4.1,4.5 3.5,5.0 1.3,5.0" fill="#666"/><polygon points="0.7,8.4 1.3,7.9 3.5,7.9 4.1,8.4 3.5,9.0 1.3,9.0" fill="#666"/><polygon points="0.6,0.7 1.1,1.3 1.1,3.2 0.6,3.8 0.0,3.2 0.0,1.3" fill="#666"/><polygon points="0.6,5.2 1.1,5.8 1.1,7.7 0.6,8.3 0.0,7.7 0.0,5.8" fill="#666"/><polygon points="4.2,0.7 4.8,1.3 4.8,3.2 4.2,3.8 3.7,3.2 3.7,1.3" fill="#666"/><polygon points="4.2,5.2 4.8,5.8 4.8,7.7 4.2,8.3 3.7,7.7 3.7,5.8" fill="#666"/></g><rect x="6.6" y="2.1" width="1.1" height="1.1" fill="#666"/><rect x="6.6" y="5.8" width="1.1" height="1.1" fill="#666"/><g transform="translate(9.6,0)"><polygon points="0.7,0.6 1.3,0.0 3.5,0.0 4.1,0.6 3.5,1.1 1.3,1.1" fill="#666"/><polygon points="0.7,4.5 1.3,4.0 3.5,4.0 4.1,4.5 3.5,5.0 1.3,5.0" fill="#666"/><polygon points="0.7,8.4 1.3,7.9 3.5,7.9 4.1,8.4 3.5,9.0 1.3,9.0" fill="#666"/><polygon points="4.2,0.7 4.8,1.3 4.8,3.2 4.2,3.8 3.7,3.2 3.7,1.3" fill="#666"/><polygon points="4.2,5.2 4.8,5.8 4.8,7.7 4.2,8.3 3.7,7.7 3.7,5.8" fill="#666"/></g><g transform="translate(15.7,0)"><polygon points="0.7,0.6 1.3,0.0 3.5,0.0 4.1,0.6 3.5,1.1 1.3,1.1" fill="#666"/><polygon points="0.7,8.4 1.3,7.9 3.5,7.9 4.1,8.4 3.5,9.0 1.3,9.0" fill="#666"/><polygon points="0.6,0.7 1.1,1.3 1.1,3.2 0.6,3.8 0.0,3.2 0.0,1.3" fill="#666"/><polygon points="0.6,5.2 1.1,5.8 1.1,7.7 0.6,8.3 0.0,7.7 0.0,5.8" fill="#666"/><polygon points="4.2,0.7 4.8,1.3 4.8,3.2 4.2,3.8 3.7,3.2 3.7,1.3" fill="#666"/><polygon points="4.2,5.2 4.8,5.8 4.8,7.7 4.2,8.3 3.7,7.7 3.7,5.8" fill="#666"/></g></g><text transform="translate(473.5,650) rotate(-90)" font-size="4.2" fill="#999">mg/dL</text><circle cx="494.5" cy="697" r="18.5" fill="#333" stroke="#8a8a8a" stroke-width="1.1"/><circle cx="494.5" cy="697" r="15" fill="none" stroke="#777" stroke-width="0.9"/><circle cx="492.4" cy="614.7" r="57.6" fill="none" stroke="#1c75bc" stroke-width="2.4" stroke-dasharray="4.4 3.4"/><text x="579.2" y="519.3" font-weight="bold" font-size="15.2" fill="#1a1a1a" textLength="51.5" lengthAdjust="spacingAndGlyphs">mg/dL</text></g><rect x="361.60" y="497.20" width="287.00" height="192.20" rx="14.6" fill="none" stroke="#141414" stroke-width="2.4" /><circle cx="383.65" cy="520.85" r="18.25" fill="#1c75bc"/><circle cx="404.65" cy="520.85" r="18.25" fill="#1c75bc"/><polygon points="383.60,507.90 389.00,507.90 389.00,533.60 382.20,533.60 382.20,517.00 375.80,517.00 375.80,512.50 380.60,511.20" fill="#fff"/><text transform="translate(404.60,532.90) scale(1.12,1)" text-anchor="middle" font-weight="bold" font-size="34.2" fill="#fff" stroke="#fff" stroke-width="1.3" stroke-linejoin="round">6</text>
<g clip-path="url(#c_b17)"><rect x="730" y="588.5" width="40" height="12.5" rx="2" fill="#ededed" stroke="#d8d8d8" stroke-width="0.6"/><path d="M767,587 L792,587 L792,613.5 L767,613.5 Z" fill="#c4c4c4"/><path d="M792,587 C820,588 845,590 862,598 C872,604 878,612 880,614 L792,614 Z" fill="#e6e6e6" stroke="#cfcfcf" stroke-width="0.6"/><rect x="798" y="590.5" width="46" height="15" rx="7.5" fill="#f6f6f6" stroke="#cdcdcd" stroke-width="1"/><rect x="805" y="593.5" width="30" height="8.5" rx="4.2" fill="#a8a8a8"/><g transform="translate(670,530) scale(0.16)" fill="none" stroke="#141414" stroke-width="13.68" stroke-linecap="round" stroke-linejoin="round"><path d="M232,520 C320,470 420,425 520,404 C590,392 670,400 700,435 C725,470 712,520 670,545 C600,575 520,600 450,640 C340,705 200,820 30,962 L10,962 L10,640 Z" fill="#fff" stroke="none"/><path d="M10,182 C120,176 240,176 350,180 C400,172 450,162 500,164 C560,170 600,215 640,285 C660,320 680,350 692,365"/><path d="M10,240 C70,218 140,205 195,211 L180,222 C250,215 320,200 362,180"/><path d="M566,296 C545,335 505,368 450,385 C425,392 400,385 385,372 C350,420 300,470 255,505 C200,548 130,580 50,586"/><path d="M262,435 C258,465 248,490 232,512"/><path d="M232,520 C320,470 420,425 520,404 C590,392 670,400 700,435 C725,470 712,520 670,545 C600,575 520,600 450,640 C340,705 200,820 30,962"/><path d="M555,512 C552,470 620,440 692,432 C722,455 718,505 688,530 C640,556 590,566 570,556 C560,546 556,530 555,512 Z" fill="#fff"/><path d="M572,590 C590,615 625,618 645,598 C652,588 652,575 650,566"/><path d="M405,512 C408,545 418,572 432,592 M445,546 C450,575 460,598 472,612"/></g><g transform="translate(800,510) scale(0.17)" fill="none" stroke="#141414" stroke-width="13.11" stroke-linecap="round" stroke-linejoin="round"><path d="M940,160 C800,162 640,170 470,186 C430,166 395,158 365,162 C330,172 305,200 290,235 C215,240 130,270 85,310 C55,345 35,395 42,425 C55,450 110,448 160,426 L240,432 C300,500 380,560 440,602 L700,700 L940,700 Z" fill="#fff" stroke="none"/><path d="M940,160 C800,162 640,170 470,186 C430,166 395,158 365,162 C330,172 305,200 290,235 C215,240 130,270 85,310 C55,345 35,395 42,425 C55,450 110,448 160,426"/><path d="M940,216 C880,192 810,178 740,176"/><path d="M105,386 C140,410 190,428 240,432 C300,500 380,560 440,602 C500,670 560,740 610,800"/><path d="M402,186 C340,225 275,285 222,346 M222,376 C290,350 335,300 350,250"/><path d="M362,218 L400,190" stroke-width="10"/><path d="M292,236 C380,246 470,310 560,390 C590,420 610,445 620,462"/><path d="M472,190 C560,222 640,260 705,285"/><path d="M40,602 C150,582 300,574 440,610" /><path d="M48,660 C70,635 130,625 158,655 C166,668 166,680 164,688 C260,735 400,830 560,952 C620,1000 670,1035 712,1058 L40,1058 Z" fill="#fff" stroke="none"/><path d="M40,625 C38,640 40,660 50,676 C90,682 130,684 164,688 C260,735 400,830 560,952 C620,1000 670,1035 712,1058"/><path d="M52,662 C70,635 130,625 158,655 C166,668 166,680 164,688"/><path d="M270,682 C278,710 286,735 292,752 M300,696 C304,720 308,740 312,756" stroke-width="9"/></g><ellipse cx="799.3" cy="594.8" rx="11.3" ry="49.6" fill="none" stroke="#ed1c24" stroke-width="1.7"/><path d="M788.4,581.2 L770,581.2" stroke="#ed1c24" stroke-width="1.7" fill="none"/><polygon points="764.5,581.2 771.8,577 771.8,585.6" fill="#ed1c24"/></g><rect x="671.40" y="496.50" width="289.10" height="193.00" rx="14.6" fill="none" stroke="#141414" stroke-width="2.4" /><circle cx="694.25" cy="519.85" r="18.25" fill="#1c75bc"/><circle cx="715.25" cy="519.85" r="18.25" fill="#1c75bc"/><polygon points="694.20,506.90 699.60,506.90 699.60,532.60 692.80,532.60 692.80,516.00 686.40,516.00 686.40,511.50 691.20,510.20" fill="#fff"/><text transform="translate(715.20,531.90) scale(1.12,1)" text-anchor="middle" font-weight="bold" font-size="34.2" fill="#fff" stroke="#fff" stroke-width="1.3" stroke-linejoin="round">7</text>
<g clip-path="url(#c_b18)"><g transform="translate(40,715) scale(0.3)" fill="none" stroke="#141414" stroke-width="7.75" stroke-linecap="round" stroke-linejoin="round"><path d="M285,12 C262,55 256,120 258,180 C260,250 270,310 285,335 C300,358 330,356 348,348"/><path d="M288,232 C300,265 302,300 294,330"/><path d="M330,75 L338,100" stroke-width="5"/><path d="M505,40 C560,42 610,44 655,46 M730,45 C780,48 830,52 882,56"/><path d="M545,100 C570,105 590,112 600,122 C606,100 612,75 622,50 M600,122 C606,135 610,150 610,162"/><path d="M800,58 C796,72 792,85 790,96 C784,130 780,170 776,215"/><rect x="335" y="0" width="170" height="348" fill="url(#gDev)" stroke="#cfcfcf" stroke-width="3"/><rect x="352" y="0" width="14" height="340" fill="#fff" stroke="none" opacity="0.8"/><path d="M385,170 L385,60 C385,35 400,25 425,25 C455,25 470,35 470,60 L470,170" fill="#f2f2f2" stroke="#d0d0d0" stroke-width="3"/><path d="M402,165 L402,60 C402,42 412,36 425,36 C440,36 450,42 450,60 L450,165 Z" fill="#9a9a9a" stroke="none"/><path d="M355,342 L492,342 L492,392 L420,392 L420,400 L372,400 L372,392 L355,392 Z" fill="#8a8a8a" stroke="#777" stroke-width="2"/><rect x="430" y="352" width="62" height="40" fill="#a2a2a2" stroke="none"/><rect x="390" y="402" width="74" height="100" rx="6" fill="#f1e9dc" stroke="#d6cbb8" stroke-width="2"/><rect x="392" y="400" width="70" height="10" fill="#3fa9e0" stroke="none"/><path d="M385,492 L405,492 L405,505 L450,505 L450,492 L468,492 L468,570 L440,578 L415,578 L385,570 Z" fill="#3fa9e0" stroke="none"/><rect x="424" y="540" width="8" height="62" fill="#9ab" stroke="none"/><ellipse cx="430" cy="614" rx="46" ry="14" fill="#2f9bd8" stroke="none"/><path d="M482,386 C490,425 520,455 570,475 C620,492 690,488 725,468 C738,458 745,450 748,442"/><path d="M520,436 C545,420 585,425 600,440 C606,452 606,462 604,472 M640,486 C650,465 675,455 702,456"/><path d="M975,235 C900,218 800,200 700,182 C600,165 520,150 450,150 C400,150 360,170 338,205 C325,235 330,270 352,292 C380,312 440,330 520,362 C600,392 700,415 800,440 C880,470 930,510 975,560 Z" fill="#fff" stroke="none"/><path d="M975,235 C900,218 800,200 700,182 C600,165 520,150 450,150 C400,150 360,170 338,205 C325,235 330,270 352,292 C380,312 440,330 520,362 C600,392 700,415 800,440 C880,470 930,510 975,560"/><path d="M350,236 C350,192 398,170 450,172 C500,176 522,210 510,252 C495,290 440,306 400,300 C365,290 350,265 350,236 Z" fill="#fff"/><path d="M606,215 C596,250 594,290 600,320 C602,335 606,345 610,352 M650,230 C662,260 664,300 654,330 C650,340 645,348 640,352 M680,216 C686,235 688,250 686,262"/><polygon points="318,568 290,540 304,540 304,520 332,520 332,540 346,540" fill="#ed1c24" stroke="none"/><rect x="304" y="460" width="28" height="62" fill="url(#gRedVr)" stroke="none"/></g></g><rect x="43.00" y="718.10" width="289.65" height="191.00" rx="14.6" fill="none" stroke="#141414" stroke-width="2.4" /><circle cx="63.65" cy="741.05" r="18.25" fill="#1c75bc"/><circle cx="84.65" cy="741.05" r="18.25" fill="#1c75bc"/><polygon points="63.60,728.10 69.00,728.10 69.00,753.80 62.20,753.80 62.20,737.20 55.80,737.20 55.80,732.70 60.60,731.40" fill="#fff"/><text transform="translate(84.60,753.10) scale(1.12,1)" text-anchor="middle" font-weight="bold" font-size="34.2" fill="#fff" stroke="#fff" stroke-width="1.3" stroke-linejoin="round">8</text>
<g clip-path="url(#c_b19)"><g transform="translate(420,730) scale(0.18)" stroke-linecap="round" stroke-linejoin="round"><path d="M125,362 L165,838 C260,885 520,885 620,832 L660,358 Z" fill="url(#gBin)" stroke="#141414" stroke-width="10.83"/><path d="M382,50 C450,52 515,110 540,220 C548,260 550,285 550,300 L240,350 C262,220 320,100 382,50 Z" fill="#fff" stroke="none"/><ellipse cx="390" cy="334" rx="274" ry="48" fill="#fff" stroke="#141414" stroke-width="9.12"/><ellipse cx="455" cy="328" rx="196" ry="33" fill="url(#gBinIn)" stroke="none"/><path d="M118,345 C112,250 150,150 230,95 C280,62 330,50 382,50 C320,100 262,220 242,352 C200,350 150,350 118,345 Z" fill="#a4a4a4" stroke="#141414" stroke-width="7.98"/><path d="M382,50 C320,100 262,220 242,352" fill="none" stroke="#141414" stroke-width="17.10"/><path d="M382,50 C450,52 515,110 540,220 C548,260 550,280 550,292" fill="none" stroke="#141414" stroke-width="17.10"/><path d="M118,345 C118,358 120,362 125,368 C260,412 520,408 660,362 C664,352 666,345 664,334" fill="none" stroke="#141414" stroke-width="9.12"/><path d="M118,345 C200,395 560,395 664,336" fill="none" stroke="#141414" stroke-width="10.26"/><circle cx="380" cy="615" r="128" fill="#fff" stroke="#4a4a4a" stroke-width="4"/><circle cx="410" cy="536" r="17" fill="#444"/><path d="M365,560 L398,558 L440,566 L446,618 L400,618 L398,572 L366,572 Z" fill="#444"/><path d="M400,618 L446,618 L450,696 L436,696 L428,650 L395,696 L378,690 L404,640 Z" fill="#444"/><path d="M294,614 L372,614 L362,686 L304,686 Z" fill="#bdbdbd" stroke="#555" stroke-width="3"/><path d="M305,620 L312,682 M320,620 L324,682 M335,620 L336,682 M350,620 L348,682 M362,620 L358,682 M298,635 H368 M300,652 H366 M302,668 H364" stroke="#777" stroke-width="2" fill="none"/><ellipse cx="340" cy="598" rx="10" ry="5" fill="#444" transform="rotate(-20,340,598)"/><g transform="translate(625,240) rotate(-47)"><rect x="0" y="-22" width="38" height="44" fill="#fff" stroke="#333" stroke-width="5"/><rect x="10" y="-8" width="16" height="16" fill="#222"/><rect x="38" y="-22" width="140" height="44" fill="#8c8c8c" stroke="#555" stroke-width="4"/><rect x="178" y="-22" width="34" height="44" fill="#2a2a2a" stroke="#222" stroke-width="4"/><path d="M184,-12 h24 M184,0 h24 M184,12 h24" stroke="#ccc" stroke-width="3"/></g><g transform="translate(715,250) rotate(-47)"><rect x="0" y="-25" width="172" height="50" rx="8" fill="#29abe2" stroke="#1b75bc" stroke-width="5"/><rect x="20" y="-6" width="130" height="8" fill="#7fd0f2" opacity="0.7"/></g><ellipse cx="712" cy="280" rx="40" ry="14" fill="#3aa8e0" transform="rotate(42,712,280)"/></g></g><rect x="361.60" y="718.00" width="289.20" height="191.10" rx="14.6" fill="none" stroke="#141414" stroke-width="2.4" /><circle cx="384.25" cy="741.25" r="18.25" fill="#1c75bc"/><circle cx="405.25" cy="741.25" r="18.25" fill="#1c75bc"/><polygon points="384.20,728.30 389.60,728.30 389.60,754.00 382.80,754.00 382.80,737.40 376.40,737.40 376.40,732.90 381.20,731.60" fill="#fff"/><text transform="translate(405.20,753.30) scale(1.12,1)" text-anchor="middle" font-weight="bold" font-size="34.2" fill="#fff" stroke="#fff" stroke-width="1.3" stroke-linejoin="round">9</text>
<rect x="512" y="251.6" width="449.6" height="45.3" rx="9.5" fill="#1c75bc"/><rect x="932.6" y="235" width="4" height="18" fill="#1c75bc"/><polygon points="934.6,225.2 941.8,236.8 927.4,236.8" fill="#1c75bc"/><text x="524.10" y="270.90" font-size="9.6" fill="#fff" textLength="425.0" lengthAdjust="spacingAndGlyphs" >After inserting the test strip, the glucose meter will be automatically turned on, and blood</text><text x="524.10" y="285.00" font-size="9.6" fill="#fff" textLength="333.6" lengthAdjust="spacingAndGlyphs" >drop symbol will be displayed, blood sample collecting can be started.</text><g clip-path="url(#c_bw)"><rect x="670.0" y="716.6" width="291.79999999999995" height="46.00" fill="#1c75bc"/></g><rect x="671.20" y="717.80" width="289.40" height="191.30" rx="14.6" fill="none" stroke="#141414" stroke-width="2.4" /><text x="691.00" y="747.60" font-size="17.2" font-weight="bold" fill="#fff" textLength="81.0" lengthAdjust="spacingAndGlyphs" >Warning:</text><text x="690.40" y="787.60" font-size="10.7" fill="#383838" textLength="235.2" lengthAdjust="spacingAndGlyphs" >The meter and lancing device are forsingle</text><text x="690.40" y="804.20" font-size="10.7" fill="#383838" textLength="241.0" lengthAdjust="spacingAndGlyphs" >patient use. Do not use on multiplepatients.</text><text x="690.40" y="820.80" font-size="10.7" fill="#383838" textLength="257.6" lengthAdjust="spacingAndGlyphs" >Do not share them with anyoneincluding other</text><text x="690.40" y="837.50" font-size="10.7" fill="#383838" textLength="91.2" lengthAdjust="spacingAndGlyphs" >family members.</text><text x="690.40" y="870.80" font-size="10.7" fill="#383838" textLength="258.2" lengthAdjust="spacingAndGlyphs" >Please refer to your system's User's Manual for</text><text x="690.40" y="887.40" font-size="10.7" fill="#383838" textLength="98.6" lengthAdjust="spacingAndGlyphs" >more information.</text><circle cx="682.40" cy="783.20" r="2.2" fill="#fff" stroke="#1c75bc" stroke-width="1.7"/><circle cx="682.40" cy="866.40" r="2.2" fill="#fff" stroke="#1c75bc" stroke-width="1.7"/><g clip-path="url(#c_ba)"><rect x="41.7" y="943.7" width="424.5" height="27.30" fill="#1c75bc"/></g><rect x="42.90" y="944.90" width="422.10" height="154.90" rx="14.6" fill="none" stroke="#141414" stroke-width="2.4" /><text x="60.30" y="964.40" font-size="16.4" font-weight="bold" fill="#fff" textLength="123.3" lengthAdjust="spacingAndGlyphs" >After You Test</text><text x="63.20" y="984.80" font-size="8.1" fill="#383838" textLength="292.1" lengthAdjust="spacingAndGlyphs" >ALWAYS store the test strips in the original vial with the cap tightly closed.</text><path d="M47.60,982.50 L50.70,985.60 L55.90,978.50" stroke="#1b68b0" stroke-width="2.2" fill="none" stroke-linejoin="miter"/><text x="63.20" y="999.50" font-size="8.1" fill="#383838" textLength="221.7" lengthAdjust="spacingAndGlyphs" >ALWAYS keep the cap of the test strip vial tightly closed.</text><path d="M47.60,997.20 L50.70,1000.30 L55.90,993.20" stroke="#1b68b0" stroke-width="2.2" fill="none" stroke-linejoin="miter"/><text x="63.20" y="1014.50" font-size="8.1" fill="#383838" textLength="381.6" lengthAdjust="spacingAndGlyphs" >NEVER transfer test strips from one vial to another. Do not expose to heat, moisture, or humidity.</text><path d="M47.00,1006.90 L56.20,1014.10 M56.20,1006.90 L47.00,1014.10" stroke="#ed1c24" stroke-width="2.7" fill="none"/><text x="63.20" y="1029.20" font-size="8.1" fill="#383838" textLength="177.6" lengthAdjust="spacingAndGlyphs" >NEVER compare your meter to other meters.</text><path d="M47.00,1021.60 L56.20,1028.80 M56.20,1021.60 L47.00,1028.80" stroke="#ed1c24" stroke-width="2.7" fill="none"/><text x="63.20" y="1044.20" font-size="8.1" fill="#383838" textLength="388.2" lengthAdjust="spacingAndGlyphs" >NEVER immerse meter or test strips in liquids or place any liquids onto meter or into the Test Port.</text><path d="M47.00,1036.60 L56.20,1043.80 M56.20,1036.60 L47.00,1043.80" stroke="#ed1c24" stroke-width="2.7" fill="none"/><text x="63.20" y="1058.90" font-size="8.1" fill="#383838" textLength="368.4" lengthAdjust="spacingAndGlyphs" >Store G-425-2 System in a dry place at room temperature 39.2°F-86°F(4°C~30°C) at 10%-85%</text><path d="M47.60,1056.60 L50.70,1059.70 L55.90,1052.60" stroke="#1b68b0" stroke-width="2.2" fill="none" stroke-linejoin="miter"/><text x="63.20" y="1073.60" font-size="8.1" fill="#383838" textLength="137.1" lengthAdjust="spacingAndGlyphs" >relative humidity. DO NOT FREEZE.</text><text x="63.20" y="1088.60" font-size="8.1" fill="#383838" textLength="298.7" lengthAdjust="spacingAndGlyphs" >Dispose of used test strips and lancets in accordance with local regulations.</text><path d="M47.60,1086.30 L50.70,1089.40 L55.90,1082.30" stroke="#1b68b0" stroke-width="2.2" fill="none" stroke-linejoin="miter"/><g clip-path="url(#c_bi)"><rect x="483.8" y="943.7" width="478.2" height="27.50" fill="#1c75bc"/></g><rect x="485.00" y="944.90" width="475.80" height="154.90" rx="14.6" fill="none" stroke="#141414" stroke-width="2.4" /><text x="499.20" y="964.50" font-size="16.4" font-weight="bold" fill="#fff" textLength="202.0" lengthAdjust="spacingAndGlyphs" >Additional Information</text><text x="497.30" y="985.00" font-size="7.8" fill="#383838" textLength="428.0" lengthAdjust="spacingAndGlyphs" >ALL parts ofyour blood glucose monitoring system could carry blood-borne pathogens after use, even after</text><circle cx="492.10" cy="982.20" r="2.05" fill="#fff" stroke="#1c75bc" stroke-width="1.7"/><text x="497.30" y="998.00" font-size="7.8" fill="#383838" textLength="101.2" lengthAdjust="spacingAndGlyphs" >cleaning and disinfecting.</text><text x="497.30" y="1011.20" font-size="7.8" fill="#383838" textLength="437.0" lengthAdjust="spacingAndGlyphs" >Cleaning and disinfecting the lancing device and the meter destroys most, but not necessarily all, blood-borne</text><circle cx="492.10" cy="1008.40" r="2.05" fill="#fff" stroke="#1c75bc" stroke-width="1.7"/><text x="497.30" y="1024.30" font-size="7.8" fill="#383838" textLength="44.5" lengthAdjust="spacingAndGlyphs" >pathogens.</text><text x="497.30" y="1037.50" font-size="7.8" fill="#383838" textLength="454.5" lengthAdjust="spacingAndGlyphs" >Wash your hands thoroughlywith soap and warm water before and after handling the meter, lancing device. ancets,</text><circle cx="492.10" cy="1034.70" r="2.05" fill="#fff" stroke="#1c75bc" stroke-width="1.7"/><text x="497.30" y="1050.50" font-size="7.8" fill="#383838" textLength="239.5" lengthAdjust="spacingAndGlyphs" >or test strips ascontact with blood presents an infection risk.</text><text x="497.30" y="1063.70" font-size="7.8" fill="#383838" textLength="445.7" lengthAdjust="spacingAndGlyphs" >If the meter is being operated by a second person who provides testing assistance, the meter and lancing device</text><circle cx="492.10" cy="1060.90" r="2.05" fill="#fff" stroke="#1c75bc" stroke-width="1.7"/><text x="497.30" y="1076.70" font-size="7.8" fill="#383838" textLength="221.2" lengthAdjust="spacingAndGlyphs" >should bedisinfected prior to use by the second person.</text><text x="497.30" y="1089.70" font-size="7.8" fill="#383838" textLength="308.0" lengthAdjust="spacingAndGlyphs" >It is important to keep the meter and the lancing device clean and disintected.</text><circle cx="492.10" cy="1086.90" r="2.05" fill="#fff" stroke="#1c75bc" stroke-width="1.7"/>
</svg>
</body></html>
